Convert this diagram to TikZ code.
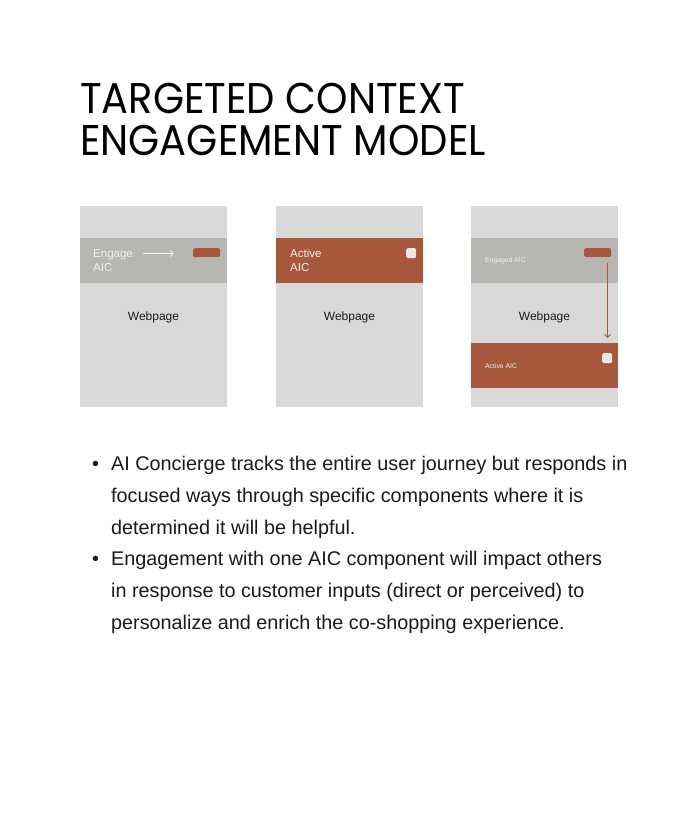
\documentclass[tikz,border=0pt]{standalone}
\usepackage{fontspec}
\setmainfont{Liberation Sans}
\newfontfamily\titlefont[FakeStretch=0.93]{Poppins}
\usetikzlibrary{arrows.meta}
\definecolor{panelbg}{RGB}{217,217,217}
\definecolor{bandgray}{RGB}{184,182,179}
\definecolor{rust}{RGB}{166,87,60}
\definecolor{boxlight}{RGB}{232,232,232}
\definecolor{txt}{RGB}{26,26,26}
\definecolor{paletext}{RGB}{240,240,240}
\tikzset{
  panel/.style={fill=panelbg, draw=none, inner sep=0pt, anchor=north west, minimum width=147pt, minimum height=201pt},
  grayband/.style={fill=bandgray, draw=none, inner sep=0pt, anchor=north west, minimum width=147pt, minimum height=45pt},
  rustband/.style={fill=rust, draw=none, inner sep=0pt, anchor=north west, minimum width=147pt, minimum height=45pt},
  button/.style={fill=rust, draw=none, rounded corners=1.5pt, inner sep=0pt, anchor=north west, minimum width=27pt, minimum height=9pt},
  checkbox/.style={fill=boxlight, draw=none, rounded corners=1.5pt, inner sep=0pt, anchor=north west, minimum width=10pt, minimum height=10pt},
  bandtext/.style={text=paletext, inner sep=0pt, anchor=base west, font=\fontsize{11.5}{13}\selectfont},
  smalltext/.style={text=paletext, inner sep=0pt, anchor=base west, font=\fontsize{6.8}{8}\selectfont},
  webtext/.style={text=txt, inner sep=0pt, anchor=base, font=\fontsize{12}{14}\selectfont},
  titletext/.style={text=black, inner sep=0pt, anchor=base west, font=\titlefont\fontsize{43}{48}\selectfont},
  bodytext/.style={text=txt, inner sep=0pt, anchor=base west, font=\fontsize{19.8}{22}\selectfont},
}
\begin{document}
\begin{tikzpicture}[x=1pt,y=-1pt]
\useasboundingbox[fill=white] (0,0) rectangle (699,814);

% title
\node[titletext] (t1) at (80,113) {TARGETED CONTEXT};
\node[titletext] (t2) at (80,155) {ENGAGEMENT MODEL};

% panel 1
\node[panel] (p1) at (80,206) {};
\node[grayband] (g1) at (80,238) {};
\node[bandtext] (e1a) at (93,257) {Engage};
\node[bandtext] (e1b) at (93,271) {AIC};
\node[button] (b1) at (193,248) {};
\coordinate (a1s) at (143,253.5);
\coordinate (a1e) at (174,253.5);
\draw[paletext, line width=1pt, -{Straight Barb[length=3pt,width=6pt]}] (a1s) -- (a1e);
\node[webtext] (w1) at (153.5,320) {Webpage};

% panel 2
\node[panel] (p2) at (276,206) {};
\node[rustband] (r2) at (276,238) {};
\node[bandtext] (e2a) at (290,257) {Active};
\node[bandtext] (e2b) at (290,271) {AIC};
\node[checkbox] (c2) at (406,248) {};
\node[webtext] (w2) at (349.5,320) {Webpage};

% panel 3
\node[panel] (p3) at (471,206) {};
\node[grayband] (g3) at (471,238) {};
\node[smalltext] (e3) at (485,262) {Engaged AIC};
\node[button] (b3) at (584,248) {};
\node[webtext] (w3) at (544.5,320) {Webpage};
\node[rustband] (r3) at (471,343) {};
\node[smalltext] (e3b) at (485,368) {Active AIC};
\node[checkbox] (c3) at (602,353) {};
\coordinate (a3s) at (607.5,263);
\coordinate (a3e) at (607.5,338);
\draw[rust, line width=1pt, -{Straight Barb[length=3pt,width=6pt]}] (a3s) -- (a3e);

% bullets
\node[bodytext] (d1) at (92,470) {•};
\node[bodytext] (l1) at (111,470) {AI Concierge tracks the entire user journey but responds in};
\node[bodytext] (l2) at (111,502) {focused ways through specific components where it is};
\node[bodytext] (l3) at (111,534) {determined it will be helpful.};
\node[bodytext] (d2) at (92,565) {•};
\node[bodytext] (l4) at (111,565) {Engagement with one AIC component will impact others};
\node[bodytext] (l5) at (111,597) {in response to customer inputs (direct or perceived) to};
\node[bodytext] (l6) at (111,629) {personalize and enrich the co-shopping experience.};
\end{tikzpicture}
\end{document}
